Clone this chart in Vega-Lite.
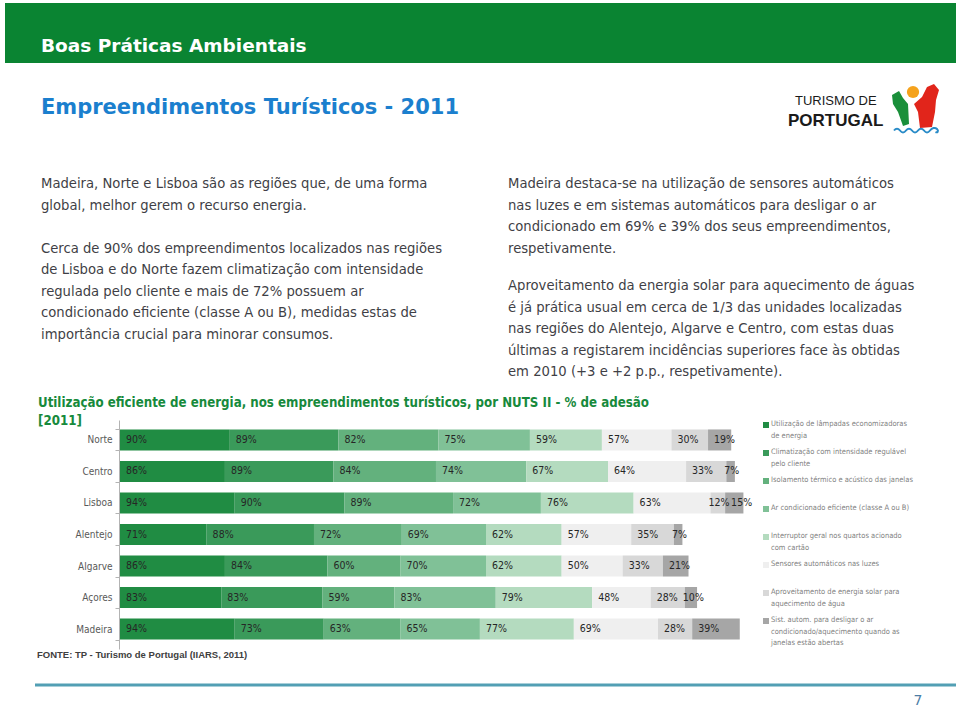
{
  "$schema": "https://vega.github.io/schema/vega-lite/v6.json",
  "width": 960,
  "height": 711,
  "padding": 0,
  "autosize": {"type": "none"},
  "background": "#ffffff",
  "view": {"stroke": null},
  "config": {"font": "DejaVu Sans"},
  "datasets": {
    "legenda": [
      {"ordem": 1, "medida": "Utilização de lâmpadas economizadoras de energia", "rotulo": "Utilização de lâmpadas economizadoras\nde energia"},
      {"ordem": 2, "medida": "Climatização com intensidade regulável pelo cliente", "rotulo": "Climatização com intensidade regulável\npelo cliente"},
      {"ordem": 3, "medida": "Isolamento térmico e acústico das janelas", "rotulo": "Isolamento térmico e acústico das janelas"},
      {"ordem": 4, "medida": "Ar condicionado eficiente (classe A ou B)", "rotulo": "Ar condicionado eficiente (classe A ou B)"},
      {"ordem": 5, "medida": "Interruptor geral nos quartos acionado com cartão", "rotulo": "Interruptor geral nos quartos acionado\ncom cartão"},
      {"ordem": 6, "medida": "Sensores automáticos nas luzes", "rotulo": "Sensores automáticos nas luzes"},
      {"ordem": 7, "medida": "Aproveitamento de energia solar para aquecimento de água", "rotulo": "Aproveitamento de energia solar para\naquecimento de água"},
      {"ordem": 8, "medida": "Sist. autom. para desligar o ar condicionado/aquecimento quando as janelas estão abertas", "rotulo": "Sist. autom. para desligar o ar\ncondicionado/aquecimento quando as\njanelas estão abertas"}
    ],
    "barras": [
      {"regiao": "Norte", "ordem": 1, "valor": 90}, {"regiao": "Norte", "ordem": 2, "valor": 89}, {"regiao": "Norte", "ordem": 3, "valor": 82}, {"regiao": "Norte", "ordem": 4, "valor": 75},
      {"regiao": "Norte", "ordem": 5, "valor": 59}, {"regiao": "Norte", "ordem": 6, "valor": 57}, {"regiao": "Norte", "ordem": 7, "valor": 30}, {"regiao": "Norte", "ordem": 8, "valor": 19},
      {"regiao": "Centro", "ordem": 1, "valor": 86}, {"regiao": "Centro", "ordem": 2, "valor": 89}, {"regiao": "Centro", "ordem": 3, "valor": 84}, {"regiao": "Centro", "ordem": 4, "valor": 74},
      {"regiao": "Centro", "ordem": 5, "valor": 67}, {"regiao": "Centro", "ordem": 6, "valor": 64}, {"regiao": "Centro", "ordem": 7, "valor": 33}, {"regiao": "Centro", "ordem": 8, "valor": 7},
      {"regiao": "Lisboa", "ordem": 1, "valor": 94}, {"regiao": "Lisboa", "ordem": 2, "valor": 90}, {"regiao": "Lisboa", "ordem": 3, "valor": 89}, {"regiao": "Lisboa", "ordem": 4, "valor": 72},
      {"regiao": "Lisboa", "ordem": 5, "valor": 76}, {"regiao": "Lisboa", "ordem": 6, "valor": 63}, {"regiao": "Lisboa", "ordem": 7, "valor": 12}, {"regiao": "Lisboa", "ordem": 8, "valor": 15},
      {"regiao": "Alentejo", "ordem": 1, "valor": 71}, {"regiao": "Alentejo", "ordem": 2, "valor": 88}, {"regiao": "Alentejo", "ordem": 3, "valor": 72}, {"regiao": "Alentejo", "ordem": 4, "valor": 69},
      {"regiao": "Alentejo", "ordem": 5, "valor": 62}, {"regiao": "Alentejo", "ordem": 6, "valor": 57}, {"regiao": "Alentejo", "ordem": 7, "valor": 35}, {"regiao": "Alentejo", "ordem": 8, "valor": 7},
      {"regiao": "Algarve", "ordem": 1, "valor": 86}, {"regiao": "Algarve", "ordem": 2, "valor": 84}, {"regiao": "Algarve", "ordem": 3, "valor": 60}, {"regiao": "Algarve", "ordem": 4, "valor": 70},
      {"regiao": "Algarve", "ordem": 5, "valor": 62}, {"regiao": "Algarve", "ordem": 6, "valor": 50}, {"regiao": "Algarve", "ordem": 7, "valor": 33}, {"regiao": "Algarve", "ordem": 8, "valor": 21},
      {"regiao": "Açores", "ordem": 1, "valor": 83}, {"regiao": "Açores", "ordem": 2, "valor": 83}, {"regiao": "Açores", "ordem": 3, "valor": 59}, {"regiao": "Açores", "ordem": 4, "valor": 83},
      {"regiao": "Açores", "ordem": 5, "valor": 79}, {"regiao": "Açores", "ordem": 6, "valor": 48}, {"regiao": "Açores", "ordem": 7, "valor": 28}, {"regiao": "Açores", "ordem": 8, "valor": 10},
      {"regiao": "Madeira", "ordem": 1, "valor": 94}, {"regiao": "Madeira", "ordem": 2, "valor": 73}, {"regiao": "Madeira", "ordem": 3, "valor": 63}, {"regiao": "Madeira", "ordem": 4, "valor": 65},
      {"regiao": "Madeira", "ordem": 5, "valor": 77}, {"regiao": "Madeira", "ordem": 6, "valor": 69}, {"regiao": "Madeira", "ordem": 7, "valor": 28}, {"regiao": "Madeira", "ordem": 8, "valor": 39}
    ],
    "paragrafos": [
      {"coluna": "esquerda", "linha": 1, "texto": "Madeira, Norte e Lisboa são as regiões que, de uma forma"},
      {"coluna": "esquerda", "linha": 2, "texto": "global, melhor gerem o recurso energia."},
      {"coluna": "esquerda", "linha": 4, "texto": "Cerca de 90% dos empreendimentos localizados nas regiões"},
      {"coluna": "esquerda", "linha": 5, "texto": "de Lisboa e do Norte fazem climatização com intensidade"},
      {"coluna": "esquerda", "linha": 6, "texto": "regulada pelo cliente e mais de 72% possuem ar"},
      {"coluna": "esquerda", "linha": 7, "texto": "condicionado eficiente (classe A ou B), medidas estas de"},
      {"coluna": "esquerda", "linha": 8, "texto": "importância crucial para minorar consumos."},
      {"coluna": "direita", "linha": 1, "texto": "Madeira destaca-se na utilização de sensores automáticos"},
      {"coluna": "direita", "linha": 2, "texto": "nas luzes e em sistemas automáticos para desligar o ar"},
      {"coluna": "direita", "linha": 3, "texto": "condicionado em 69% e 39% dos seus empreendimentos,"},
      {"coluna": "direita", "linha": 4, "texto": "respetivamente."},
      {"coluna": "direita", "linha": 5.75, "texto": "Aproveitamento da energia solar para aquecimento de águas"},
      {"coluna": "direita", "linha": 6.75, "texto": "é já prática usual em cerca de 1/3 das unidades localizadas"},
      {"coluna": "direita", "linha": 7.75, "texto": "nas regiões do Alentejo, Algarve e Centro, com estas duas"},
      {"coluna": "direita", "linha": 8.75, "texto": "últimas a registarem incidências superiores face às obtidas"},
      {"coluna": "direita", "linha": 9.75, "texto": "em 2010 (+3 e +2 p.p., respetivamente)."}
    ]
  },
  "resolve": {"scale": {"x": "independent", "y": "independent", "color": "independent"}},
  "layer": [
    {
      "data": {"values": [{}]},
      "mark": {"type": "rect", "color": "#0a8432"},
      "encoding": {"x": {"value": 5}, "x2": {"value": 956}, "y": {"value": 3}, "y2": {"value": 63}}
    },
    {
      "data": {"values": [{"texto": "Boas Práticas Ambientais"}]},
      "mark": {"type": "text", "align": "left", "baseline": "alphabetic", "font": "DejaVu Sans", "fontWeight": "bold", "fontSize": 18.5, "color": "#ffffff"},
      "encoding": {"text": {"field": "texto"}, "x": {"value": 41}, "y": {"value": 52}}
    },
    {
      "data": {"values": [{"texto": "Empreendimentos Turísticos - 2011"}]},
      "mark": {"type": "text", "align": "left", "baseline": "alphabetic", "font": "DejaVu Sans", "fontWeight": "bold", "fontSize": 21, "color": "#1b7fce"},
      "encoding": {"text": {"field": "texto"}, "x": {"value": 41}, "y": {"value": 114}}
    },
    {
      "data": {"values": [{"texto": "TURISMO DE"}]},
      "mark": {"type": "text", "align": "left", "baseline": "middle", "font": "Liberation Sans", "fontSize": 13, "color": "#1a1a1a"},
      "encoding": {"text": {"field": "texto"}, "x": {"value": 795}, "y": {"value": 101}}
    },
    {
      "data": {"values": [{"texto": "PORTUGAL"}]},
      "mark": {"type": "text", "align": "left", "baseline": "middle", "font": "Liberation Sans", "fontWeight": "bold", "fontSize": 17, "color": "#1a1a1a"},
      "encoding": {"text": {"field": "texto"}, "x": {"value": 788}, "y": {"value": 121}}
    },
    {
      "data": {"values": [{}]},
      "mark": {"type": "point", "filled": true, "opacity": 1, "color": "#1a8f3a", "shape": "M-0.92,-0.52L-0.64,-0.68L-0.48,-0.4L-0.28,-0.16L-0.24,0.64L-0.48,0.72L-0.68,0.16L-0.88,-0.16Z"},
      "encoding": {"x": {"value": 915}, "y": {"value": 108}, "size": {"value": 2500}}
    },
    {
      "data": {"values": [{}]},
      "mark": {"type": "point", "filled": true, "opacity": 1, "color": "#e1251b", "shape": "M0.48,-0.84L0.76,-0.96L0.96,-0.72L0.84,-0.32L0.8,0.16L0.68,0.76L0.2,0.8L0.12,0.16L-0.04,-0.16L0.28,-0.44Z"},
      "encoding": {"x": {"value": 915}, "y": {"value": 108}, "size": {"value": 2500}}
    },
    {
      "data": {"values": [{}]},
      "mark": {"type": "point", "filled": true, "opacity": 1, "color": "#f5a21c", "shape": "circle"},
      "encoding": {"x": {"value": 913}, "y": {"value": 92}, "size": {"value": 150}}
    },
    {
      "data": {"values": [{}]},
      "mark": {"type": "point", "filled": false, "opacity": 1, "stroke": "#2a8cc8", "strokeWidth": 2, "shape": "M-0.84,0.9C-0.76,0.8,-0.68,0.8,-0.6,0.9C-0.52,1,-0.44,1,-0.36,0.9C-0.28,0.8,-0.2,0.8,-0.12,0.9C-0.04,1,0.04,1,0.12,0.9C0.2,0.8,0.28,0.8,0.36,0.9C0.44,1,0.52,1,0.6,0.9C0.68,0.8,0.8,0.76,0.88,0.84C0.96,0.92,0.9,1,0.82,0.96"},
      "encoding": {"x": {"value": 915}, "y": {"value": 108}, "size": {"value": 2500}}
    },
    {
      "data": {"name": "paragrafos"},
      "mark": {"type": "text", "align": "left", "baseline": "middle", "font": "DejaVu Sans", "fontSize": 13.2, "color": "#3f3f46"},
      "encoding": {
        "text": {"field": "texto"},
        "x": {"field": "coluna", "type": "nominal", "scale": {"type": "point", "domain": ["esquerda", "direita"], "range": [41, 508], "padding": 0}, "axis": null},
        "y": {"field": "linha", "type": "quantitative", "scale": {"domain": [1, 10], "range": [184, 377.5], "zero": false, "nice": false}, "axis": null}
      }
    },
    {
      "data": {"values": [{"texto": "Utilização eficiente de energia, nos empreendimentos turísticos, por NUTS II - % de adesão\n[2011]"}]},
      "mark": {"type": "text", "align": "left", "baseline": "alphabetic", "lineBreak": "\n", "lineHeight": 18, "font": "DejaVu Sans Condensed", "fontWeight": "bold", "fontSize": 13.2, "color": "#178a3c"},
      "encoding": {"text": {"field": "texto"}, "x": {"value": 38}, "y": {"value": 407}}
    },
    {
      "data": {"name": "barras"},
      "transform": [
        {"lookup": "ordem", "from": {"data": {"name": "legenda"}, "key": "ordem", "fields": ["medida"]}},
        {"stack": "valor", "groupby": ["regiao"], "sort": [{"field": "ordem", "order": "ascending"}], "as": ["v0", "v1"]},
        {"calculate": "datum.valor + '%'", "as": "rotulo"}
      ],
      "encoding": {
        "y": {
          "field": "regiao", "type": "nominal",
          "sort": ["Norte", "Centro", "Lisboa", "Alentejo", "Algarve", "Açores", "Madeira"],
          "scale": {"range": [420, 649], "paddingInner": 0.333, "paddingOuter": 0.3},
          "axis": {"title": null, "offset": -119, "domainColor": "#b3b3b3", "tickColor": "#b3b3b3", "tickBand": "extent", "tickSize": 4, "labelFont": "DejaVu Sans Condensed", "labelFontSize": 10, "labelColor": "#595959", "labelPadding": 3}
        }
      },
      "layer": [
        {
          "mark": {"type": "bar"},
          "encoding": {
            "x": {"field": "v0", "type": "quantitative", "scale": {"domain": [0, 520], "range": [120, 754.4], "zero": false, "nice": false}, "axis": null},
            "x2": {"field": "v1"},
            "color": {
              "field": "medida", "type": "nominal", "legend": null,
              "scale": {
                "domain": ["Utilização de lâmpadas economizadoras de energia", "Climatização com intensidade regulável pelo cliente", "Isolamento térmico e acústico das janelas", "Ar condicionado eficiente (classe A ou B)", "Interruptor geral nos quartos acionado com cartão", "Sensores automáticos nas luzes", "Aproveitamento de energia solar para aquecimento de água", "Sist. autom. para desligar o ar condicionado/aquecimento quando as janelas estão abertas"],
                "range": ["#208c43", "#3a9a5a", "#63b17d", "#80c197", "#b4dbbf", "#efefef", "#d8d8d8", "#a6a6a6"]
              }
            }
          }
        },
        {
          "transform": [{"filter": "datum.valor >= 13"}],
          "mark": {"type": "text", "align": "left", "baseline": "middle", "dx": 6, "font": "DejaVu Sans Condensed", "fontSize": 10.5, "color": "#262626"},
          "encoding": {
            "x": {"field": "v0", "type": "quantitative"},
            "text": {"field": "rotulo"}
          }
        },
        {
          "transform": [{"filter": "datum.valor < 13"}],
          "mark": {"type": "text", "align": "left", "baseline": "middle", "dx": -2, "font": "DejaVu Sans Condensed", "fontSize": 10.5, "color": "#262626"},
          "encoding": {
            "x": {"field": "v0", "type": "quantitative"},
            "text": {"field": "rotulo"}
          }
        }
      ]
    },
    {
      "data": {"name": "legenda"},
      "encoding": {
        "y": {"field": "ordem", "type": "quantitative", "scale": {"domain": [1, 8], "range": [425, 621], "zero": false, "nice": false}, "axis": null}
      },
      "layer": [
        {
          "mark": {"type": "point", "shape": "square", "filled": true, "opacity": 1, "size": 36},
          "encoding": {
            "x": {"value": 766},
            "color": {
              "field": "medida", "type": "nominal", "legend": null,
              "scale": {
                "domain": ["Utilização de lâmpadas economizadoras de energia", "Climatização com intensidade regulável pelo cliente", "Isolamento térmico e acústico das janelas", "Ar condicionado eficiente (classe A ou B)", "Interruptor geral nos quartos acionado com cartão", "Sensores automáticos nas luzes", "Aproveitamento de energia solar para aquecimento de água", "Sist. autom. para desligar o ar condicionado/aquecimento quando as janelas estão abertas"],
                "range": ["#208c43", "#3a9a5a", "#63b17d", "#80c197", "#b4dbbf", "#efefef", "#d8d8d8", "#a6a6a6"]
              }
            }
          }
        },
        {
          "mark": {"type": "text", "align": "left", "baseline": "top", "dy": -5, "lineBreak": "\n", "lineHeight": 11.5, "font": "DejaVu Sans Condensed", "fontSize": 7.5, "color": "#7f7f7f"},
          "encoding": {"x": {"value": 771}, "text": {"field": "rotulo"}}
        }
      ]
    },
    {
      "data": {"values": [{"texto": "FONTE: TP - Turismo de Portugal (IIARS, 2011)"}]},
      "mark": {"type": "text", "align": "left", "baseline": "middle", "font": "Liberation Sans", "fontWeight": "bold", "fontSize": 9.5, "color": "#404040"},
      "encoding": {"text": {"field": "texto"}, "x": {"value": 37}, "y": {"value": 655}}
    },
    {
      "data": {"values": [{}]},
      "mark": {"type": "rule", "stroke": "#529fb4", "strokeWidth": 3},
      "encoding": {"x": {"value": 35}, "x2": {"value": 956}, "y": {"value": 685}}
    },
    {
      "data": {"values": [{"texto": "7"}]},
      "mark": {"type": "text", "align": "center", "baseline": "middle", "font": "DejaVu Sans", "fontSize": 14, "color": "#4c7ea6"},
      "encoding": {"text": {"field": "texto"}, "x": {"value": 918}, "y": {"value": 701}}
    }
  ]
}
